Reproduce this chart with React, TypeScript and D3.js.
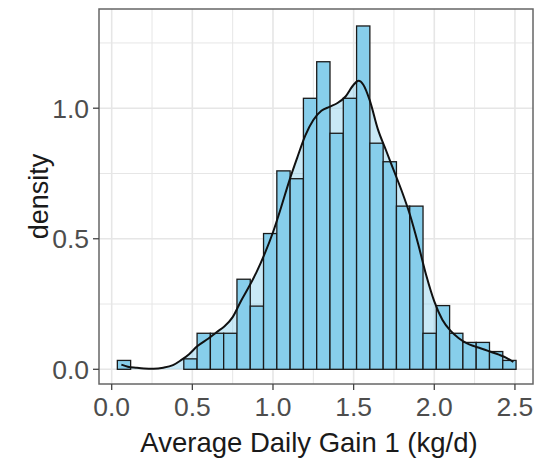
import React from "react";
import * as d3 from "d3";

// Histogram (density scale), 30 bins
const binMin = 0.035;
const binMax = 2.507;
const binDensity = [
  0.034, 0, 0, 0, 0, 0.04, 0.138, 0.138, 0.138, 0.345,
  0.242, 0.52, 0.76, 0.73, 1.038, 1.178, 0.904, 1.038, 1.315, 0.866,
  0.795, 0.625, 0.625, 0.138, 0.244, 0.138, 0.103, 0.103, 0.068, 0.034,
];

// Kernel density estimate
const kdeX = [
  0.06, 0.1, 0.15, 0.2, 0.26, 0.32, 0.38, 0.43, 0.48, 0.53,
  0.6, 0.65, 0.7, 0.75, 0.8, 0.85, 0.9, 0.95, 1.0, 1.05,
  1.1, 1.15, 1.2, 1.25, 1.3, 1.35, 1.4, 1.45, 1.5, 1.53,
  1.56, 1.6, 1.65, 1.7, 1.75, 1.8, 1.85, 1.9, 1.95, 2.0,
  2.05, 2.1, 2.15, 2.2, 2.25, 2.3, 2.35, 2.4, 2.45, 2.49,
];
const kdeY = [
  0.018, 0.01, 0.006, 0.003, 0.002, 0.006, 0.016, 0.035, 0.058, 0.088,
  0.118, 0.142, 0.165, 0.2, 0.26, 0.315, 0.375, 0.445, 0.525, 0.62,
  0.72, 0.81, 0.895, 0.955, 0.99, 1.005, 1.02, 1.045, 1.09, 1.105,
  1.09, 1.03, 0.92, 0.84, 0.76, 0.68, 0.59, 0.48, 0.36, 0.26,
  0.19, 0.148, 0.12, 0.1, 0.088, 0.078, 0.067, 0.056, 0.043, 0.028,
];

const xTicks = [0, 0.5, 1.0, 1.5, 2.0, 2.5];
const xMinor = [0.25, 0.75, 1.25, 1.75, 2.25];
const yTicks = [0, 0.5, 1.0];
const yMinor = [0.25, 0.75, 1.25];

const xTitle = "Average Daily Gain 1 (kg/d)";
const yTitle = "density";

const W = 538;
const H = 460;
const P = { left: 99, top: 9, right: 533, bottom: 384 };

export default function App() {
  const x = d3.scaleLinear().domain([-0.0787, 2.612]).range([P.left, P.right]);
  const y = d3.scaleLinear().domain([-0.0563, 1.38]).range([P.bottom, P.top]);

  const n = binDensity.length;
  const bw = (binMax - binMin) / n;
  const bins = binDensity.map((d, i) => ({ x0: binMin + i * bw, x1: binMin + (i + 1) * bw, d }));

  const pts = kdeX.map((v, i) => [v, kdeY[i]] as [number, number]);
  const area = d3
    .area<[number, number]>()
    .x((p) => x(p[0]))
    .y0(y(0))
    .y1((p) => y(p[1]))
    .curve(d3.curveMonotoneX);
  const line = d3
    .line<[number, number]>()
    .x((p) => x(p[0]))
    .y((p) => y(p[1]))
    .curve(d3.curveMonotoneX);

  const font = "'Liberation Sans', Arial, Helvetica, sans-serif";
  const grid = "#E6E6E6";

  return (
    <svg
      width={W}
      height={H}
      viewBox={`0 0 ${W} ${H}`}
      style={{ position: "absolute", left: 0, top: 0, background: "#fff" }}
      fontFamily={font}
    >
      <rect x={0} y={0} width={W} height={H} fill="#fff" />
      {/* grid */}
      {xMinor.map((t) => (
        <line key={"xm" + t} x1={x(t)} x2={x(t)} y1={P.top} y2={P.bottom} stroke={grid} strokeWidth={1} />
      ))}
      {yMinor.map((t) => (
        <line key={"ym" + t} x1={P.left} x2={P.right} y1={y(t)} y2={y(t)} stroke={grid} strokeWidth={1} />
      ))}
      {xTicks.map((t) => (
        <line key={"xg" + t} x1={x(t)} x2={x(t)} y1={P.top} y2={P.bottom} stroke={grid} strokeWidth={1.6} />
      ))}
      {yTicks.map((t) => (
        <line key={"yg" + t} x1={P.left} x2={P.right} y1={y(t)} y2={y(t)} stroke={grid} strokeWidth={1.6} />
      ))}

      {/* density area under bars */}
      <path d={area(pts) || ""} fill="#87CEEB" fillOpacity={0.45} stroke="none" />

      {/* histogram */}
      {bins.map((b, i) => (
        <rect
          key={"b" + i}
          x={x(b.x0)}
          y={y(b.d)}
          width={x(b.x1) - x(b.x0)}
          height={y(0) - y(b.d)}
          fill="#87CEEB"
          stroke="#1a1a1a"
          strokeWidth={1.3}
        />
      ))}

      {/* density line */}
      <path d={line(pts) || ""} fill="none" stroke="#111" strokeWidth={2} />

      {/* panel border */}
      <rect
        x={P.left}
        y={P.top}
        width={P.right - P.left}
        height={P.bottom - P.top}
        fill="none"
        stroke="#666"
        strokeWidth={1.5}
      />

      {/* x axis */}
      {xTicks.map((t) => (
        <g key={"xt" + t}>
          <line x1={x(t)} x2={x(t)} y1={P.bottom} y2={P.bottom + 6} stroke="#444" strokeWidth={1.3} />
          <text x={x(t)} y={416} textAnchor="middle" fontSize={26.5} fill="#4D4D4D">
            {t.toFixed(1)}
          </text>
        </g>
      ))}
      {/* y axis */}
      {yTicks.map((t) => (
        <g key={"yt" + t}>
          <line x1={P.left - 6} x2={P.left} y1={y(t)} y2={y(t)} stroke="#444" strokeWidth={1.3} />
          <text x={89} y={y(t) + 9.5} textAnchor="end" fontSize={26.5} fill="#4D4D4D">
            {t.toFixed(1)}
          </text>
        </g>
      ))}

      <text x={309} y={452} textAnchor="middle" fontSize={27.5} fill="#1a1a1a">
        {xTitle}
      </text>
      <text
        transform={`translate(48, ${(P.top + P.bottom) / 2}) rotate(-90)`}
        textAnchor="middle"
        fontSize={27}
        fill="#1a1a1a"
      >
        {yTitle}
      </text>
    </svg>
  );
}
